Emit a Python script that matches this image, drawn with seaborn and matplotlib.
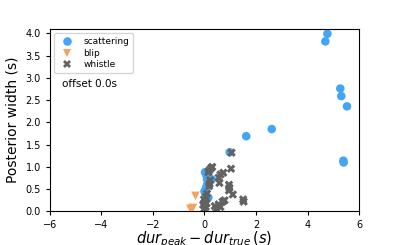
import pandas as pd
import numpy as np
import matplotlib.pyplot as plt
import seaborn as sns

# scattering glitches
scat_x = [4.77, 4.69, 5.27, 5.31, 5.53, 2.61, 1.62, 0.98, 5.39, 5.40,
          0.02, 0.08, 0.28, 0.10, 0.06, 0.15, 0.00, 0.10]
scat_y = [3.99, 3.82, 2.76, 2.59, 2.36, 1.85, 1.69, 1.33, 1.14, 1.10,
          0.88, 0.80, 0.72, 0.72, 0.53, 0.31, 0.45, 0.60]

# blip glitches
blip_x = [-0.35, -0.55, -0.45, 0.00]
blip_y = [0.35, 0.06, 0.08, 0.00]

# whistle glitches
whis_x = [1.05, 0.30, 0.25, 0.18, 0.15, 0.73, 0.62, 1.03, 0.55, 0.22,
          0.20, 0.18, 0.58, 0.95, 0.97, 0.95, 1.10, 1.50, 1.52, 0.10,
          0.05, -0.02, 0.00, -0.05, 0.08, 0.40, 0.45, 0.55, 0.62, 0.70,
          0.78, 0.50, -0.02, 0.05]
whis_y = [1.32, 1.00, 0.97, 0.92, 0.88, 0.87, 0.83, 0.96, 0.76, 0.70,
          0.62, 0.57, 0.64, 0.60, 0.53, 0.47, 0.38, 0.27, 0.22, 0.40,
          0.33, 0.27, 0.20, 0.15, 0.18, 0.12, 0.05, 0.16, 0.10, 0.22,
          0.25, 0.02, 0.05, 0.10]

df = pd.DataFrame({
    "dx": scat_x + blip_x + whis_x,
    "width": scat_y + blip_y + whis_y,
    "glitch": ["scattering"] * len(scat_x) + ["blip"] * len(blip_x) + ["whistle"] * len(whis_x),
})

palette = {"scattering": "#42a5f5", "blip": "#f5a25d", "whistle": "#626262"}
markers = {"scattering": "o", "blip": "v", "whistle": "X"}

fig = plt.figure(figsize=(3.99, 2.45), dpi=100)
ax = fig.add_axes([0.125, 0.137, 0.775, 0.745])

sns.scatterplot(data=df, x="dx", y="width", hue="glitch", style="glitch",
                palette=palette, markers=markers, s=38, linewidth=0,
                ax=ax)

ax.set_xlim(-6, 6)
ax.set_ylim(0, 4.1)
ax.set_yticks(np.arange(0, 4.01, 0.5))
ax.tick_params(labelsize=7, length=3)
ax.set_xlabel(r"$dur_{peak} - dur_{true}\,(s)$", fontsize=10.5, labelpad=-1)
ax.set_ylabel("Posterior width (s)", fontsize=10)
ax.text(0.04, 0.68, "offset 0.0s", transform=ax.transAxes, fontsize=7.5)
ax.legend(loc="upper left", fontsize=6.5, title=None, handletextpad=0.8,
          borderpad=0.4, labelspacing=0.3)

fig.savefig("out.png", dpi=100)
